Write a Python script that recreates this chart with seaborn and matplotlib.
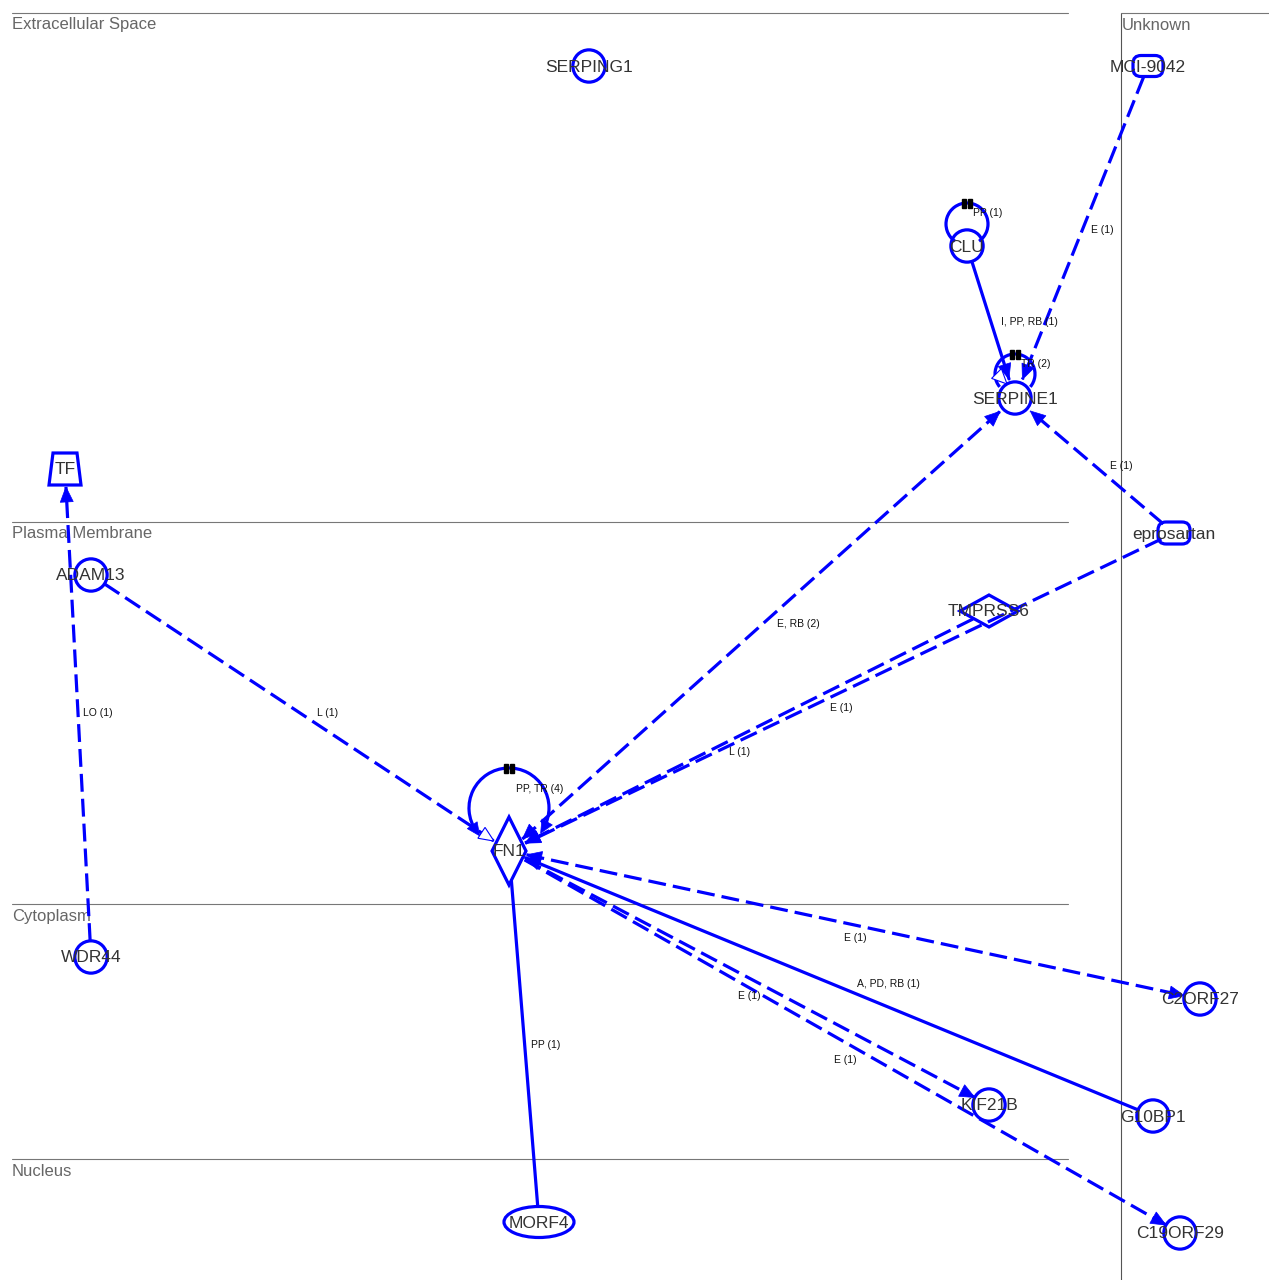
import numpy as np
import pandas as pd
import matplotlib
matplotlib.use("Agg")
import matplotlib.pyplot as plt
import seaborn as sns
from matplotlib.patches import Ellipse, FancyBboxPatch, Polygon, Arc, Rectangle

sns.set_theme(style="white")
plt.rcParams['font.family'] = ['Liberation Sans', 'DejaVu Sans']

BLUE = "#0000ff"
TXT = "#333333"
GREY = "#666666"
LW = 2.3

# ---- data ----
compartments = ["Extracellular Space", "Plasma Membrane", "Cytoplasm", "Nucleus"]
comp_top = [13, 522, 904, 1159]

node_names = ["SERPING1", "MCI-9042", "CLU", "SERPINE1", "TF", "ADAM13", "eprosartan",
              "TMPRSS6", "FN1", "WDR44", "C2ORF27", "G10BP1", "KIF21B", "C19ORF29", "MORF4"]
node_shapes = ["circle", "rounded", "circle", "circle", "trapezoid", "circle", "rounded",
               "diamond", "tall_diamond", "circle", "circle", "circle", "circle", "circle", "ellipse"]
node_x = [589, 1148, 967, 1015, 65, 91, 1174, 989, 509, 91, 1200, 1153, 989, 1180, 539]
node_y = [66, 66, 246, 398, 469, 575, 533, 611, 851, 957, 999, 1116, 1105, 1233, 1222]
node_shrink = [16, 12, 17, 20, 18, 16, 14, 18, 18, 16, 16, 16, 16, 16, 16]

edge_src = ["MCI-9042", "CLU", "eprosartan", "FN1", "eprosartan", "TMPRSS6",
            "ADAM13", "WDR44", "FN1", "G10BP1", "FN1", "FN1", "FN1"]
edge_dst = ["SERPINE1", "SERPINE1", "SERPINE1", "SERPINE1", "FN1", "FN1",
            "FN1", "TF", "C2ORF27", "FN1", "KIF21B", "C19ORF29", "MORF4"]
edge_label = ["E (1)", "I, PP, RB (1)", "E (1)", "E, RB (2)", "E (1)", "L (1)",
              "L (1)", "LO (1)", "E (1)", "A, PD, RB (1)", "E (1)", "E (1)", "PP (1)"]
edge_kind = ["dashed", "solid", "dashed", "dashed", "dashed", "dashed",
             "dashed", "dashed", "dashed", "solid", "dashed", "dashed", "solid"]
edge_head = ["filled", "filled", "filled", "both", "filled", "filled",
             "open", "filled", "both", "filled", "filled", "filled", "none"]

loop_nodes = ["CLU", "SERPINE1", "FN1"]
loop_labels = ["PP (1)", "TR (2)", "PP, TR (4)"]

# ---- layout ----
edge_label_xy = [(1102, 230), (1029, 322), (1121, 466), (798, 624), (841, 708), (740, 752),
                 (328, 713), (98, 713), (855, 938), (888, 984), (749, 996), (845, 1060), (546, 1045)]
loop_geom = [(-22, 21, 125, 55), (-24, 20, 140, 40), (-43, 40, 145, 30)]
loop_label_xy = [(988, 213), (1036, 364), (540, 789)]

pos = {n: np.array([x, y], float) for n, x, y in zip(node_names, node_x, node_y)}
shrink = dict(zip(node_names, node_shrink))

fig = plt.figure(figsize=(12.69, 12.8), dpi=100)
ax = fig.add_axes([0, 0, 1, 1])


def head(tip, u, filled=True, L=15, W=6.5):
    n = np.array([-u[1], u[0]])
    base = tip - u * L
    pts = [tip, base + n * W, base - n * W]
    ax.add_patch(Polygon(pts, closed=True, facecolor=BLUE if filled else "white",
                         edgecolor=BLUE, lw=0.8 if not filled else 0.5, zorder=5))


# compartments
for name, y in zip(compartments, comp_top):
    ax.plot([12, 1068], [y, y], color="#777777", lw=0.8, zorder=1)
    ax.text(12, y + 12, name, fontsize=12, color=GREY, va="center", ha="left")
ax.plot([1121, 1121], [13, 1280], color="#555555", lw=0.8, zorder=1)
ax.plot([1121, 1269], [13, 13], color="#777777", lw=0.8, zorder=1)
ax.text(1122, 25, "Unknown", fontsize=12, color=GREY, va="center", ha="left")

# edges
rows = []
for i, (s, d) in enumerate(zip(edge_src, edge_dst)):
    p, q = pos[s], pos[d]
    u = (q - p) / np.linalg.norm(q - p)
    a = p + u * shrink[s]
    b = q - u * shrink[d]
    rows.append({"edge": i, "x": a[0], "y": a[1], "kind": edge_kind[i]})
    rows.append({"edge": i, "x": b[0], "y": b[1], "kind": edge_kind[i]})
    if edge_head[i] in ("filled", "both"):
        head(b, u)
    if edge_head[i] == "both":
        head(a, -u)
    if edge_head[i] == "open":
        head(b, u, filled=False)
    ax.text(*edge_label_xy[i], edge_label[i], fontsize=7.5, color="#111111",
            ha="center", va="center", zorder=6)
edges = pd.DataFrame(rows)
sns.lineplot(data=edges, x="x", y="y", units="edge", estimator=None, sort=False,
             style="kind", dashes={"solid": "", "dashed": (5.6, 2.2)},
             color=BLUE, lw=LW, legend=False, ax=ax, zorder=3)

# self loops
for node, lab, (dy, r, t1, t2), lxy in zip(loop_nodes, loop_labels, loop_geom, loop_label_xy):
    c = pos[node] + np.array([0, dy])
    ax.add_patch(Arc(c, 2 * r, 2 * r, theta1=t1, theta2=t2, color=BLUE, lw=LW, zorder=3))
    if node == "FN1":
        for t, sgn in ((t1, 1), (t2, -1)):
            th = np.deg2rad(t)
            e = c + r * np.array([np.cos(th), np.sin(th)])
            tang = sgn * np.array([np.sin(th), -np.cos(th)])
            head(e + tang * 6, tang, L=13, W=6)
    top = c + np.array([0, -r])
    for dx in (-5, 1):
        ax.add_patch(Rectangle((top[0] + dx, top[1] - 4), 4, 9, color="black", zorder=6))
    ax.text(*lxy, lab, fontsize=7.5, color="#111111", ha="center", va="center", zorder=6)
# open arrowhead on SERPINE1 loop
head(pos["SERPINE1"] + np.array([-8, -14]), np.array([0.7, 0.7]), filled=False, L=15, W=7)

# nodes
circ = pd.DataFrame({"x": node_x, "y": node_y, "shape": node_shapes})
circ = circ[circ["shape"] == "circle"]
sns.scatterplot(data=circ, x="x", y="y", s=540, marker="o", facecolor="none",
                edgecolor=BLUE, linewidth=LW, legend=False, ax=ax, zorder=4)

for name, shape, x, y in zip(node_names, node_shapes, node_x, node_y):
    if shape == "rounded":
        w, h = (30, 21) if name == "MCI-9042" else (32, 22)
        ax.add_patch(FancyBboxPatch((x - w / 2, y - h / 2), w, h,
                                    boxstyle="round,pad=0,rounding_size=8",
                                    fill=False, edgecolor=BLUE, lw=LW, zorder=4))
    elif shape == "trapezoid":
        ax.add_patch(Polygon([(x - 12, y - 16), (x + 12, y - 16), (x + 16, y + 16), (x - 16, y + 16)],
                             fill=False, edgecolor=BLUE, lw=LW, zorder=4))
    elif shape == "diamond":
        ax.add_patch(Polygon([(x - 29, y), (x, y - 16), (x + 29, y), (x, y + 16)],
                             fill=False, edgecolor=BLUE, lw=LW, zorder=4))
    elif shape == "tall_diamond":
        ax.add_patch(Polygon([(x - 17, y), (x, y - 34), (x + 17, y), (x, y + 34)],
                             facecolor="white", edgecolor=BLUE, lw=LW, zorder=4))
    elif shape == "ellipse":
        ax.add_patch(Ellipse((x, y), 70, 31, fill=False, edgecolor=BLUE, lw=LW, zorder=4))
    ax.text(x, y + 1, name, fontsize=12.5, color=TXT, ha="center", va="center", zorder=7)

ax.set_xlim(0, 1269)
ax.set_ylim(1280, 0)
ax.axis("off")
plt.savefig("out.png", dpi=100)
